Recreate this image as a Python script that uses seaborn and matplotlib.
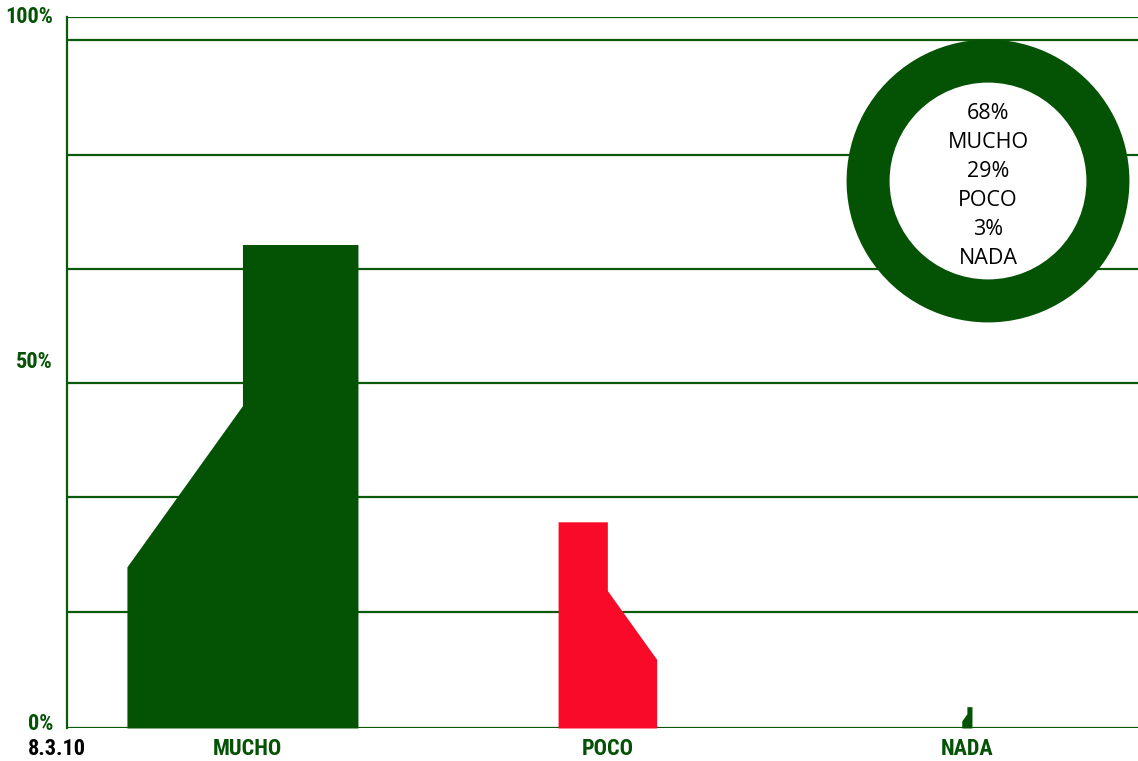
import numpy as np
import matplotlib
matplotlib.use("Agg")
import matplotlib.pyplot as plt
import matplotlib.transforms as mtransforms
from matplotlib import font_manager
import seaborn as sns

# ---- data ----
categories = ["MUCHO", "POCO", "NADA"]
values = [68, 29, 3]                      # percent
shape_colors = ["#045204", "#f90a28", "#045204"]
mirrored = [False, True, False]
ytick_values = [0, 50, 100]
ytick_labels = ["0%", "50%", "100%"]
grid_values = [16.3, 32.5, 48.5, 64.6, 80.6, 96.8, 100]
date_label = "8.3.10"
donut_text = "68%\nMUCHO\n29%\nPOCO\n3%\nNADA"

GREEN = "#045204"
LINE_GREEN = "#0b5a0b"

sns.set_theme(style="white")
names = {f.name for f in font_manager.fontManager.ttflist}
narrow = "DejaVu Sans"
for cand in ["Liberation Sans Narrow", "Roboto Condensed", "Open Sans Condensed"]:
    if cand in names:
        narrow = cand
        break
plt.rcParams["font.family"] = ["Open Sans", "DejaVu Sans"]


def style_narrow(t, color, size=16):
    t.set_fontfamily(narrow)
    t.set_fontweight("heavy")
    t.set_fontsize(size)
    t.set_color(color)
    t.set_fontstretch("condensed")


W, H = 1138, 761
fig = plt.figure(figsize=(W / 100, H / 100), dpi=100)
fig.patch.set_facecolor("white")

ax = fig.add_axes([67 / W, (H - 728) / H, (W - 67) / W, (728 - 17) / H])
ax.set_facecolor("white")
ax.set_ylim(0, 100)
ax.set_xlim(-0.503, 2.476)

# gridlines
for g in grid_values:
    ax.axhline(g, color=LINE_GREEN, lw=1.6, zorder=1)
ax.axhline(0, color=LINE_GREEN, lw=1.6, zorder=1)

# shapes: width proportional to the value, three-level "boot" profile
k = 0.00945  # x-units per percent
offsets = [-0.015, 0.0, 0.0]
for i, (v, c, m, off) in enumerate(zip(values, shape_colors, mirrored, offsets)):
    w = v * k
    fr = np.array([0.0, 0.5, 0.5, 1.0])
    hts = np.array([1 / 3, 2 / 3, 1.0, 1.0]) * v
    if m:
        fr = 1 - fr[::-1]
        hts = hts[::-1]
    xs = i + off - w / 2 + fr * w
    ax.fill_between(xs, 0, hts, color=c, lw=0, zorder=2)

sns.despine(ax=ax, right=True, top=True, bottom=True, left=False)
ax.spines["left"].set_color(LINE_GREEN)
ax.spines["left"].set_linewidth(1.6)

# y labels as texts (small vertical nudges as in the original)
ax.set_yticks([])
nudges = {0: 4, 50: 10, 100: 0}
blend = mtransforms.blended_transform_factory(ax.transAxes, ax.transData)
for yv, yl in zip(ytick_values, ytick_labels):
    tr = blend + mtransforms.ScaledTranslation(-14 / 100, nudges[yv] / 100,
                                               fig.dpi_scale_trans)
    t = ax.text(0, yv, yl, transform=tr, ha="right", va="center", clip_on=False)
    style_narrow(t, GREEN)

ax.set_xticks(range(len(categories)))
ax.set_xticklabels(categories)
for lab in ax.get_xticklabels():
    style_narrow(lab, GREEN)
ax.tick_params(axis="x", length=0, pad=7)

dt = fig.text(57 / W, (H - 749) / H, date_label, ha="center", va="center")
style_narrow(dt, "black")

# donut
cx, cy, r = 988, 181, 142
axd = fig.add_axes([(cx - r) / W, (H - cy - r) / H, 2 * r / W, 2 * r / H])
axd.pie(values, colors=[GREEN] * len(values), startangle=90,
        wedgeprops=dict(width=0.30, linewidth=1.2, edgecolor=GREEN), radius=1.0)
axd.add_patch(plt.Circle((0, 0), 0.695, color="white", zorder=3))
axd.set_xlim(-1.01, 1.01)
axd.set_ylim(-1.01, 1.01)
axd.set_aspect("equal")
axd.axis("off")
axd.text(0, -0.035, donut_text, ha="center", va="center", fontsize=15.5,
         linespacing=1.5, color="black", zorder=4,
         fontfamily=["Open Sans", "DejaVu Sans"])

fig.savefig("out.png", dpi=100)
